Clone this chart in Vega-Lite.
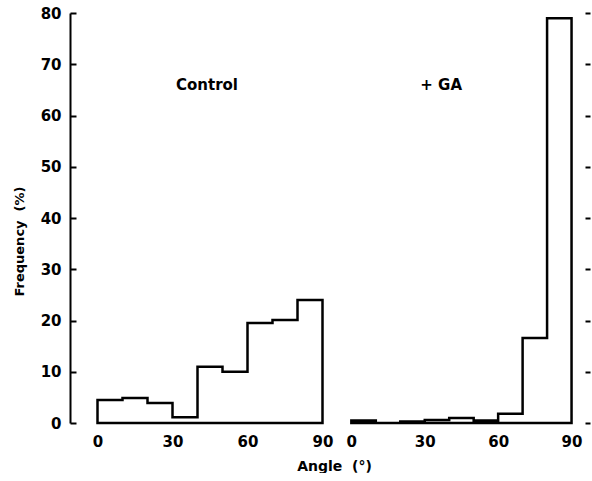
{
  "$schema": "https://vega.github.io/schema/vega-lite/v6.json",
  "padding": {"left": 13, "top": 6, "right": 0, "bottom": 0},
  "background": "white",
  "config": {
    "view": {"stroke": null},
    "font": "DejaVu Sans",
    "axis": {
      "labelFont": "DejaVu Sans",
      "labelFontWeight": "bold",
      "labelFontSize": 15,
      "labelColor": "black",
      "titleColor": "black",
      "titleFont": "DejaVu Sans",
      "titleFontWeight": "bold",
      "titleFontSize": 13,
      "grid": false,
      "domainColor": "black",
      "tickColor": "black"
    }
  },
  "datasets": {
    "control": [
      {"angle": 0, "frequency": 4.5},
      {"angle": 10, "frequency": 4.9},
      {"angle": 20, "frequency": 3.9},
      {"angle": 30, "frequency": 1.1},
      {"angle": 40, "frequency": 11.0},
      {"angle": 50, "frequency": 10.0},
      {"angle": 60, "frequency": 19.5},
      {"angle": 70, "frequency": 20.1},
      {"angle": 80, "frequency": 24.0},
      {"angle": 90, "frequency": 24.0}
    ],
    "ga": [
      {"angle": 0, "frequency": 0.5},
      {"angle": 10, "frequency": 0.0},
      {"angle": 20, "frequency": 0.3},
      {"angle": 30, "frequency": 0.6},
      {"angle": 40, "frequency": 1.0},
      {"angle": 50, "frequency": 0.5},
      {"angle": 60, "frequency": 1.8},
      {"angle": 70, "frequency": 16.6},
      {"angle": 80, "frequency": 79.0},
      {"angle": 90, "frequency": 79.0}
    ],
    "labelControl": [{"angle": 43.8, "frequency": 66.0, "label": "Control"}],
    "labelGA": [{"angle": 36.7, "frequency": 66.0, "label": "+ GA"}]
  },
  "bounds": "flush",
  "spacing": 16,
  "hconcat": [
    {
      "width": 257.5,
      "height": 410,
      "layer": [
        {
          "data": {"name": "control"},
          "mark": {"type": "area", "interpolate": "step-after", "fillOpacity": 0, "stroke": "black", "strokeWidth": 2.5, "strokeJoin": "miter"},
          "encoding": {
            "x": {
              "field": "angle", "type": "quantitative",
              "scale": {"domain": [-11, 92], "nice": false, "zero": false},
              "axis": {"values": [0, 30, 60, 90], "ticks": false, "domain": false, "labelPadding": 11, "title": "Angle\u00a0\u00a0(°)", "titleX": 264, "titleAlign": "center", "titleFontSize": 14, "titlePadding": 10}
            },
            "y": {
              "field": "frequency", "type": "quantitative",
              "scale": {"domain": [0, 80], "nice": false},
              "axis": {"values": [0, 10, 20, 30, 40, 50, 60, 70, 80], "title": "Frequency\u00a0\u00a0(%)", "titleY": 228, "titlePadding": 14, "tickSize": -6, "tickWidth": 2, "domainWidth": 2, "labelPadding": 15}
            }
          }
        },
        {
          "data": {"name": "labelControl"},
          "mark": {"type": "text", "fontWeight": "bold", "fontSize": 15, "font": "DejaVu Sans", "color": "black"},
          "encoding": {
            "x": {"field": "angle", "type": "quantitative"},
            "y": {"field": "frequency", "type": "quantitative"},
            "text": {"field": "label"}
          }
        }
      ]
    },
    {
      "width": 241,
      "height": 410,
      "layer": [
        {
          "data": {"name": "ga"},
          "mark": {"type": "area", "interpolate": "step-after", "fillOpacity": 0, "stroke": "black", "strokeWidth": 2.5, "strokeJoin": "miter"},
          "encoding": {
            "x": {
              "field": "angle", "type": "quantitative",
              "scale": {"domain": [-3, 95.5], "nice": false, "zero": false},
              "axis": {"values": [0, 30, 60, 90], "ticks": false, "domain": false, "labelPadding": 11, "title": null}
            },
            "y": {
              "field": "frequency", "type": "quantitative",
              "scale": {"domain": [0, 80], "nice": false},
              "axis": {"orient": "right", "values": [0, 10, 20, 30, 40, 50, 60, 70, 80], "title": null, "labels": false, "domain": false, "tickSize": 5, "tickWidth": 2}
            }
          }
        },
        {
          "data": {"name": "labelGA"},
          "mark": {"type": "text", "fontWeight": "bold", "fontSize": 15, "font": "DejaVu Sans", "color": "black"},
          "encoding": {
            "x": {"field": "angle", "type": "quantitative"},
            "y": {"field": "frequency", "type": "quantitative"},
            "text": {"field": "label"}
          }
        }
      ]
    }
  ]
}
